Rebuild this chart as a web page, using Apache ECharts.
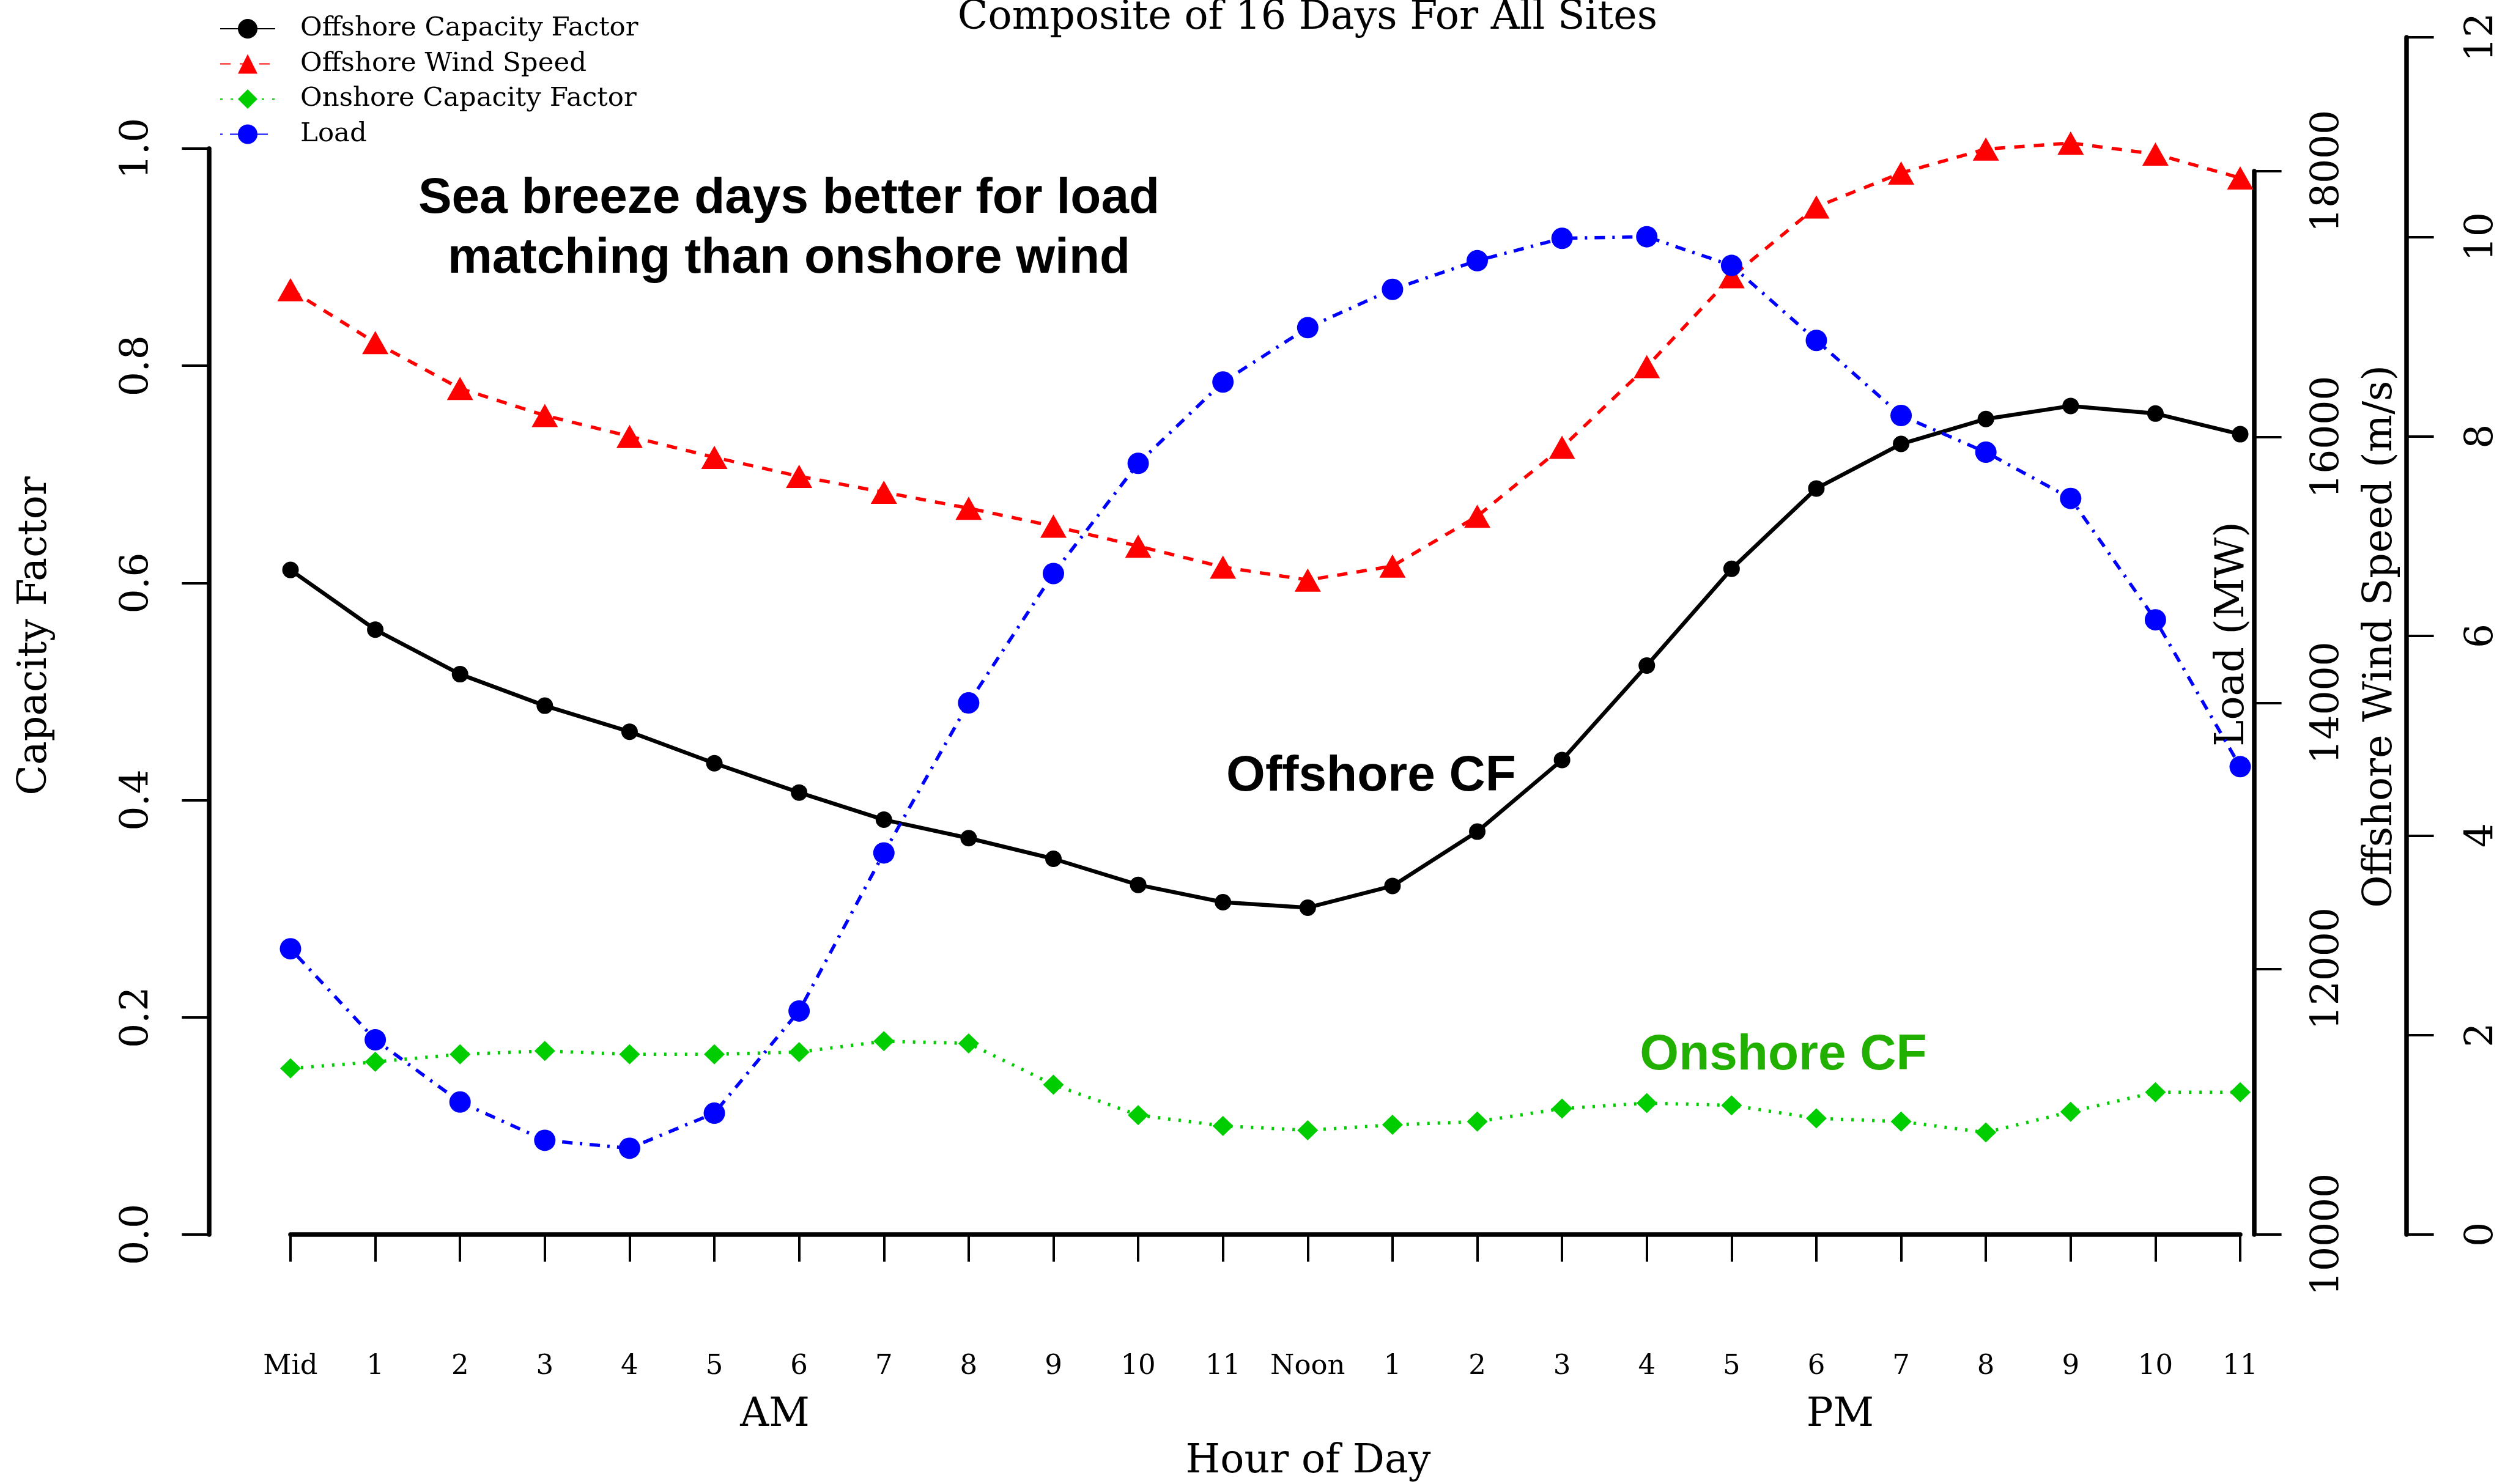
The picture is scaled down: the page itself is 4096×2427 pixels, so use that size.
<!DOCTYPE html>
<html><head><meta charset="utf-8">
<script src="https://cdn.jsdelivr.net/npm/echarts@6/dist/echarts.min.js"></script>
<style>html,body{margin:0;padding:0;background:#fff}#c{width:4096px;height:2427px}</style>
</head><body><div id="c"></div>
<script>
const hours = ['Mid','1','2','3','4','5','6','7','8','9','10','11','Noon','1','2','3','4','5','6','7','8','9','10','11'];
const offshoreCF = [0.612,0.557,0.516,0.487,0.463,0.434,0.407,0.382,0.365,0.346,0.322,0.306,0.301,0.321,0.371,0.437,0.524,0.613,0.687,0.728,0.751,0.763,0.756,0.737];
const windSpeed = [9.47,8.94,8.48,8.21,8.00,7.79,7.60,7.44,7.28,7.10,6.90,6.69,6.56,6.70,7.20,7.89,8.70,9.60,10.30,10.64,10.88,10.94,10.83,10.59];
const onshoreCF = [0.153,0.159,0.166,0.169,0.166,0.166,0.168,0.178,0.176,0.138,0.110,0.100,0.096,0.101,0.104,0.116,0.121,0.119,0.107,0.104,0.094,0.113,0.131,0.131];
const load = [12150,11465,10997,10709,10649,10913,11682,12871,14000,14973,15802,16414,16823,17111,17327,17495,17507,17291,16727,16162,15886,15538,14625,13520];
const cfTicks = ['0.0','0.2','0.4','0.6','0.8','1.0'];
const loadTicks = ['10000','12000','14000','16000','18000'];
const windTicks = ['0','2','4','6','8','10','12'];
const seriesNames = ['Offshore Capacity Factor','Offshore Wind Speed','Onshore Capacity Factor','Load'];

const SERIF = 'DejaVu Serif';
const SANS = 'Liberation Sans';
const GL = 475, GR = 433, GB = 408;

const chart = echarts.init(document.getElementById('c'), null, {renderer:'canvas'});

function yAx(grid, pos, offset, min, max, interval, ticks, margin){
  return {
    type:'value', gridIndex:grid, position:pos, offset:offset, min:min, max:max, interval:interval,
    axisLine:{show:true, lineStyle:{color:'#000', width:7.5}},
    axisTick:{show:true, length:44.6, lineStyle:{color:'#000', width:4}},
    splitLine:{show:false},
    axisLabel:{show:true, rotate:90, margin:margin, fontFamily:SERIF, fontSize:63, lineHeight:63, color:'#000',
      formatter:function(v){ return ticks[Math.round((v-min)/interval)]; }}
  };
}

const option = {
  animation:false,
  backgroundColor:'#fff',
  grid:[
    {left:GL, right:GR, top:243, bottom:GB, outerBoundsMode:'none'},
    {left:GL, right:GR, top:280, bottom:GB, outerBoundsMode:'none'},
    {left:GL, right:GR, top:61, bottom:GB, outerBoundsMode:'none'}
  ],
  xAxis:[
    {type:'category', gridIndex:0, data:hours, boundaryGap:false, position:'bottom', offset:75,
      axisLine:{show:true, lineStyle:{color:'#000', width:7.5}},
      axisTick:{show:true, interval:0, length:44.6, lineStyle:{color:'#000', width:4}},
      axisLabel:{interval:0, margin:119, fontFamily:SERIF, fontSize:45, lineHeight:45, color:'#000'},
      splitLine:{show:false}},
    {type:'category', gridIndex:1, data:hours, boundaryGap:false, show:false},
    {type:'category', gridIndex:2, data:hours, boundaryGap:false, show:false}
  ],
  yAxis:[
    yAx(0,'left',133,0,1,0.2,cfTicks,85),
    yAx(1,'right',23,10000,18000,2000,loadTicks,90),
    yAx(2,'right',272,0,12,2,windTicks,93)
  ],
  legend:{
    show:true, orient:'vertical', left:354, top:20, itemWidth:90, itemHeight:40, itemGap:13.5,
    selectedMode:false, data:seriesNames,
    textStyle:{fontFamily:SERIF, fontSize:43.5, color:'#000', lineHeight:40, padding:[0,0,0,36]}
  },
  series:[
    {name:seriesNames[0], type:'line', xAxisIndex:0, yAxisIndex:0, data:offshoreCF, clip:false,
      symbol:'circle', symbolSize:27, itemStyle:{color:'#000', borderWidth:0},
      lineStyle:{color:'#000', width:6.5, type:'solid'}},
    {name:seriesNames[1], type:'line', xAxisIndex:2, yAxisIndex:2, data:windSpeed, clip:false,
      symbol:'triangle', symbolSize:[43,38], itemStyle:{color:'#ff0000', borderWidth:0},
      lineStyle:{color:'#ff0000', width:5.5, type:[17,15]}},
    {name:seriesNames[2], type:'line', xAxisIndex:0, yAxisIndex:0, data:onshoreCF, clip:false,
      symbol:'diamond', symbolSize:[34,33], itemStyle:{color:'#00cd00', borderWidth:0},
      lineStyle:{color:'#00cd00', width:5.5, type:[4,13]}},
    {name:seriesNames[3], type:'line', xAxisIndex:1, yAxisIndex:1, data:load, clip:false,
      symbol:'circle', symbolSize:35, itemStyle:{color:'#0000ff', borderWidth:0},
      lineStyle:{color:'#0000ff', width:5.5, type:[4,12,17,12]}}
  ],
  graphic:[
    {type:'text', x:2138, y:30, style:{text:'Composite of 16 Days For All Sites', fontFamily:SERIF, fontSize:65, fill:'#000', textAlign:'center', textVerticalAlign:'middle'}},
    {type:'text', x:58, y:1040, rotation:Math.PI/2, style:{text:'Capacity Factor', fontFamily:SERIF, fontSize:65, fill:'#000', textAlign:'center', textVerticalAlign:'middle'}},
    {type:'text', x:3651, y:1037, rotation:Math.PI/2, style:{text:'Load (MW)', fontFamily:SERIF, fontSize:65, fill:'#000', textAlign:'center', textVerticalAlign:'middle'}},
    {type:'text', x:3893, y:1041, rotation:Math.PI/2, style:{text:'Offshore Wind Speed (m/s)', fontFamily:SERIF, fontSize:65, fill:'#000', textAlign:'center', textVerticalAlign:'middle'}},
    {type:'text', x:1267, y:2315, style:{text:'AM', fontFamily:SERIF, fontSize:65, fill:'#000', textAlign:'center', textVerticalAlign:'middle'}},
    {type:'text', x:3009, y:2315, style:{text:'PM', fontFamily:SERIF, fontSize:65, fill:'#000', textAlign:'center', textVerticalAlign:'middle'}},
    {type:'text', x:2139, y:2391, style:{text:'Hour of Day', fontFamily:SERIF, fontSize:65, fill:'#000', textAlign:'center', textVerticalAlign:'middle'}},
    {type:'text', x:1290, y:374, style:{text:'Sea breeze days better for load\nmatching than onshore wind', fontFamily:SANS, fontWeight:'bold', fontSize:82, lineHeight:98, fill:'#000', textAlign:'center', textVerticalAlign:'middle'}},
    {type:'text', x:2242, y:1270, style:{text:'Offshore CF', fontFamily:SANS, fontWeight:'bold', fontSize:82, fill:'#000', textAlign:'center', textVerticalAlign:'middle'}},
    {type:'text', x:2916, y:1726, style:{text:'Onshore CF', fontFamily:SANS, fontWeight:'bold', fontSize:82, fill:'#22b000', textAlign:'center', textVerticalAlign:'middle'}}
  ]
};
chart.setOption(option);
</script>
</body></html>
